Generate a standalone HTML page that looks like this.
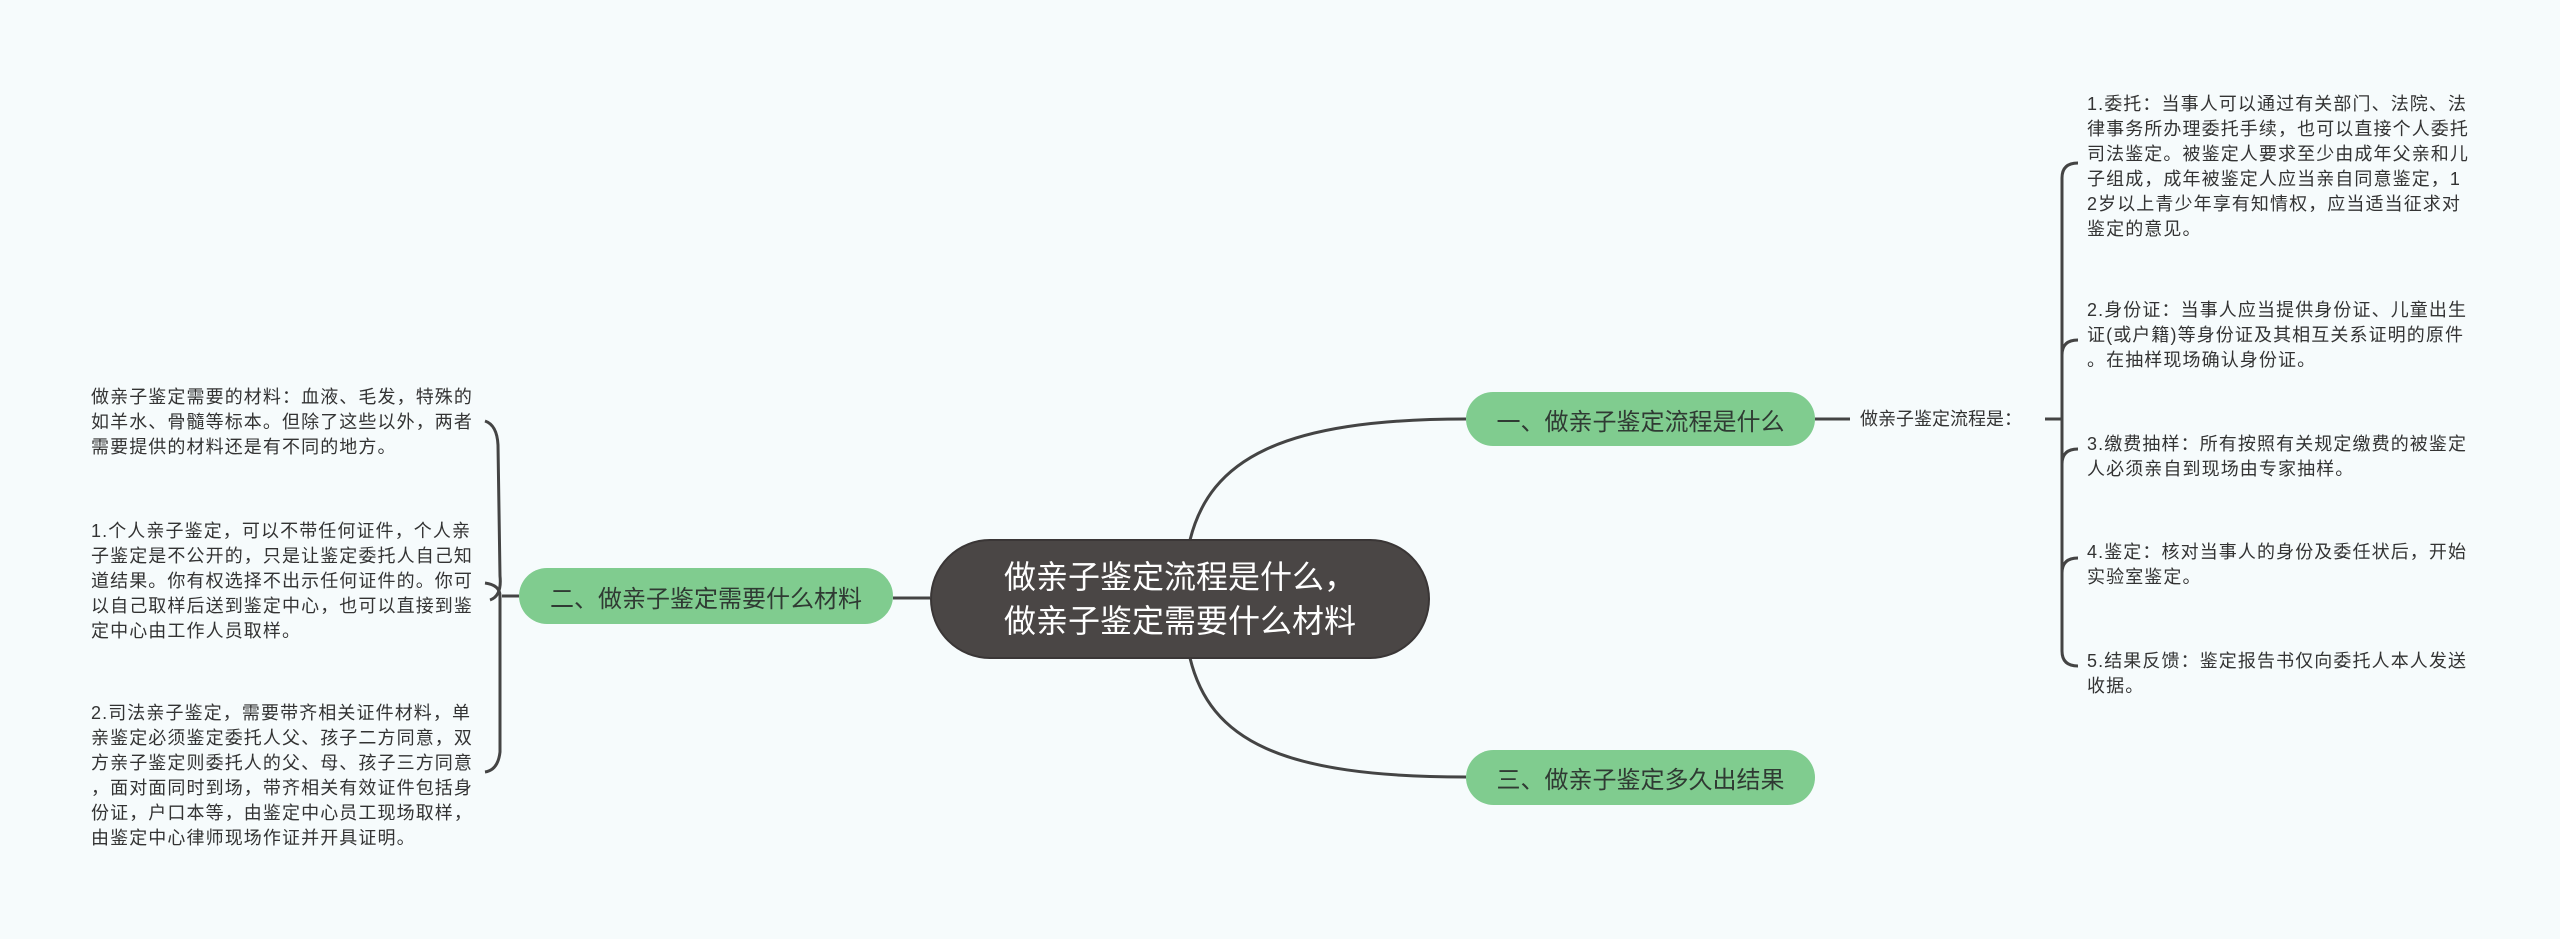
<!DOCTYPE html>
<html><head><meta charset="utf-8"><style>
html,body{margin:0;padding:0;}
body{width:2560px;height:939px;background:#f6fbfc;position:relative;overflow:hidden;font-family:"Liberation Sans","Noto Sans CJK SC",sans-serif;}
.n{position:absolute;display:flex;align-items:center;justify-content:center;box-sizing:border-box;}
.g{background:#80cc8f;color:#2f3a33;font-size:24px;border-radius:28px;}
.c{background:#4a4645;color:#fff;font-size:32px;border-radius:60px;line-height:44px;border:2px solid #3a3636;}
.t{position:absolute;font-size:18px;line-height:25px;color:#333;white-space:nowrap;letter-spacing:1.1px;}
</style></head><body>
<svg width="2560" height="939" style="position:absolute;left:0;top:0">
<g fill="none" stroke="#444" stroke-width="3">
<path d="M1190 540 C1210 460 1280 419 1466 419"/>
<path d="M1190 658 C1210 740 1280 777 1466 777"/>
<path d="M930 598 L893 598"/>
<path d="M1815 419 L1850 419"/>
<path d="M2045 419 L2062 419"/>
<path d="M2078 163 Q2062 163 2062 178 L2062 651 Q2062 666 2078 666"/>
<path d="M2062 355 Q2062 340 2078 340"/>
<path d="M2062 464 Q2062 449 2078 449"/>
<path d="M2062 573 Q2062 558 2078 558"/>
<path d="M519 596 L502 596"/>
<path d="M485 421 Q497 425 498 445 L500 576 Q502 596 490 600"/>
<path d="M485 583 Q500 585 500 596"/>
<path d="M500 596 L500 752 Q498 770 485 772"/>
</g>
</svg>
<div class="n c" style="left:930px;top:539px;width:500px;height:120px;text-align:left;">做亲子鉴定流程是什么，<br>做亲子鉴定需要什么材料</div>
<div class="n g" style="left:1466px;top:392px;width:349px;height:54px;">一、做亲子鉴定流程是什么</div>
<div class="n g" style="left:1466px;top:750px;width:349px;height:55px;">三、做亲子鉴定多久出结果</div>
<div class="n g" style="left:519px;top:568px;width:374px;height:56px;">二、做亲子鉴定需要什么材料</div>
<div class="t" style="left:1860px;top:407px;letter-spacing:0;">做亲子鉴定流程是：</div>
<div class="t" style="left:2087px;top:92px;">1.委托：当事人可以通过有关部门、法院、法<br>律事务所办理委托手续，也可以直接个人委托<br>司法鉴定。被鉴定人要求至少由成年父亲和儿<br>子组成，成年被鉴定人应当亲自同意鉴定，1<br>2岁以上青少年享有知情权，应当适当征求对<br>鉴定的意见。</div>
<div class="t" style="left:2087px;top:298px;">2.身份证：当事人应当提供身份证、儿童出生<br>证(或户籍)等身份证及其相互关系证明的原件<br>。在抽样现场确认身份证。</div>
<div class="t" style="left:2087px;top:432px;">3.缴费抽样：所有按照有关规定缴费的被鉴定<br>人必须亲自到现场由专家抽样。</div>
<div class="t" style="left:2087px;top:540px;">4.鉴定：核对当事人的身份及委任状后，开始<br>实验室鉴定。</div>
<div class="t" style="left:2087px;top:649px;">5.结果反馈：鉴定报告书仅向委托人本人发送<br>收据。</div>
<div class="t" style="left:91px;top:385px;">做亲子鉴定需要的材料：血液、毛发，特殊的<br>如羊水、骨髓等标本。但除了这些以外，两者<br>需要提供的材料还是有不同的地方。</div>
<div class="t" style="left:91px;top:519px;">1.个人亲子鉴定，可以不带任何证件，个人亲<br>子鉴定是不公开的，只是让鉴定委托人自己知<br>道结果。你有权选择不出示任何证件的。你可<br>以自己取样后送到鉴定中心，也可以直接到鉴<br>定中心由工作人员取样。</div>
<div class="t" style="left:91px;top:701px;">2.司法亲子鉴定，需要带齐相关证件材料，单<br>亲鉴定必须鉴定委托人父、孩子二方同意，双<br>方亲子鉴定则委托人的父、母、孩子三方同意<br>，面对面同时到场，带齐相关有效证件包括身<br>份证，户口本等，由鉴定中心员工现场取样，<br>由鉴定中心律师现场作证并开具证明。</div>
</body></html>
